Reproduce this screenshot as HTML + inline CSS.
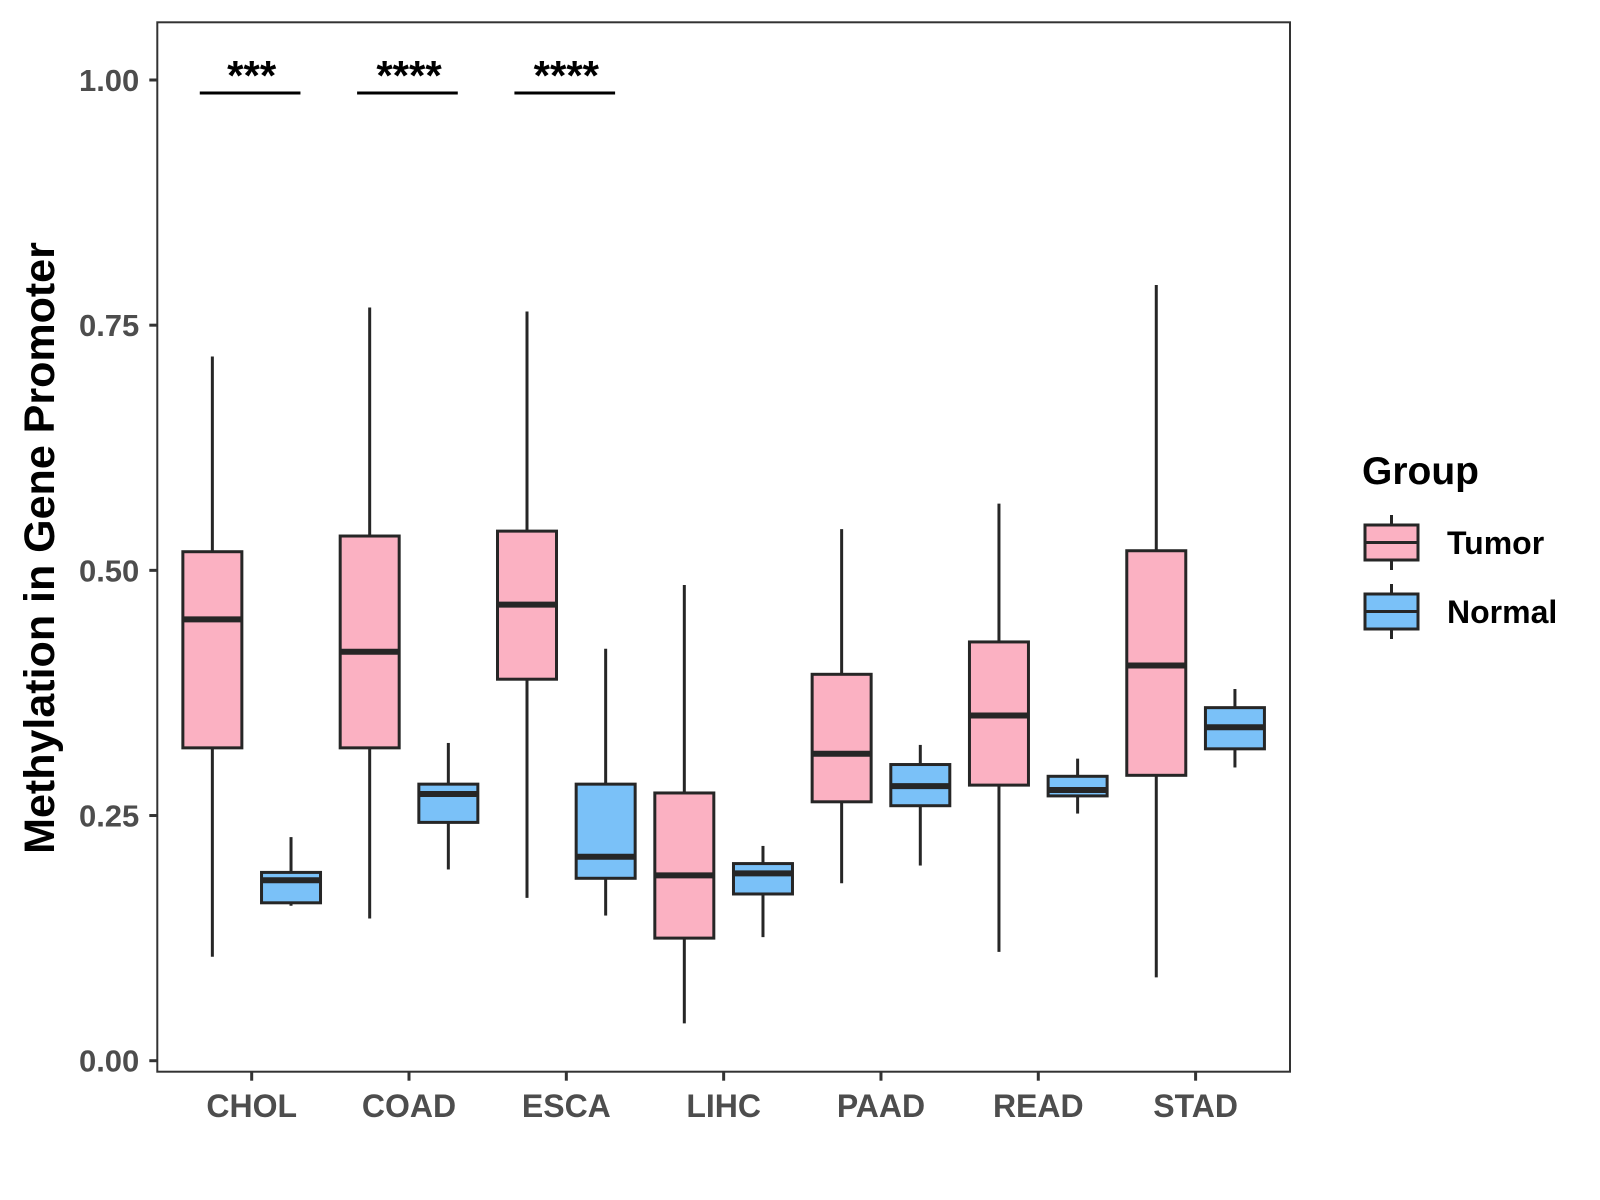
<!DOCTYPE html>
<html><head><meta charset="utf-8"><style>body{margin:0;background:#fff}svg{display:block}text{font-family:"Liberation Sans",Arial,sans-serif;font-weight:bold}</style></head>
<body>
<svg id="chart" width="1600" height="1200" viewBox="0 0 1600 1200" xmlns="http://www.w3.org/2000/svg">
<rect x="157.3" y="22.3" width="1132.7" height="1049.4" fill="#fff" stroke="#333" stroke-width="2"/>
<g id="g"></g>
<text transform="translate(54,548) rotate(-90)" text-anchor="middle" font-size="43" fill="#000">Methylation in Gene Promoter</text>
<text x="1362" y="484" font-size="39" fill="#000">Group</text>
</svg>
<script>
const categories=["CHOL","COAD","ESCA","LIHC","PAAD","READ","STAD"];
const groups=["Tumor","Normal"];
const tumorMin=[0.106,0.145,0.166,0.038,0.181,0.111,0.085];
const tumorQ1=[0.319,0.319,0.389,0.125,0.264,0.281,0.291];
const tumorMed=[0.450,0.417,0.465,0.189,0.313,0.352,0.403];
const tumorQ3=[0.519,0.535,0.540,0.273,0.394,0.427,0.520];
const tumorMax=[0.718,0.768,0.764,0.485,0.542,0.568,0.791];
const normalMin=[0.158,0.195,0.148,0.126,0.199,0.252,0.299];
const normalQ1=[0.161,0.243,0.186,0.170,0.260,0.270,0.318];
const normalMed=[0.184,0.272,0.208,0.191,0.280,0.276,0.340];
const normalQ3=[0.192,0.282,0.282,0.201,0.302,0.290,0.360];
const normalMax=[0.228,0.324,0.420,0.219,0.322,0.308,0.379];
const yTicks=[0,0.25,0.5,0.75,1.0];
const yTickLabels=["0.00","0.25","0.50","0.75","1.00"];
const sigCats=["CHOL","COAD","ESCA"];
const sigLabels=["***","****","****"];
const colors=["#FBB1C2","#7AC1F8"];
const NS="http://www.w3.org/2000/svg";
const L=157.3,R=1290,T=22.3,B=1071.7;
const step=(R-L)/(categories.length-1+1.2);
const xc=i=>L+step*(0.6+i);
const y=v=>1060.7-v*980.7;
const g=document.getElementById('g');
function mk(t,a,p){const e=document.createElementNS(NS,t);for(const k in a)e.setAttribute(k,a[k]);(p||g).appendChild(e);return e;}
yTicks.forEach((v,i)=>{
 const t=mk('line',{x1:L-8,x2:L,y1:y(v),y2:y(v),stroke:'#333','stroke-width':3});
 
 
 const l=mk('text',{x:L-18,y:y(v)+11,'text-anchor':'end','font-size':31,fill:'#4d4d4d'});
 l.textContent=yTickLabels[i];
 
 
});
categories.forEach((c,i)=>{
 const t=mk('line',{x1:xc(i),x2:xc(i),y1:B,y2:B+9,stroke:'#333','stroke-width':3});
 
 
 const l=mk('text',{x:xc(i),y:1117,'text-anchor':'middle','font-size':32,fill:'#4d4d4d'});
 l.textContent=c;
 
 
});
const stats=[[tumorMin,tumorQ1,tumorMed,tumorQ3,tumorMax],[normalMin,normalQ1,normalMed,normalQ3,normalMax]];
const bw=step*0.375;
categories.forEach((c,i)=>{
 stats.forEach((s,gi)=>{
  const cx=xc(i)+(gi===0?-1:1)*step*0.25;
  const box=mk('g',{});
  
  
  mk('line',{x1:cx,x2:cx,y1:y(s[4][i]),y2:y(s[3][i]),stroke:'#262626','stroke-width':3},box);
  mk('line',{x1:cx,x2:cx,y1:y(s[1][i]),y2:y(s[0][i]),stroke:'#262626','stroke-width':3},box);
  mk('rect',{x:cx-bw/2,y:y(s[3][i]),width:bw,height:y(s[1][i])-y(s[3][i]),fill:colors[gi],stroke:'#262626','stroke-width':3},box);
  mk('line',{x1:cx-bw/2,x2:cx+bw/2,y1:y(s[2][i]),y2:y(s[2][i]),stroke:'#262626','stroke-width':6},box);
 });
});
sigCats.forEach((c,k)=>{
 const i=categories.indexOf(c);
 const ln=mk('line',{x1:xc(i)-step*0.33,x2:xc(i)+step*0.31,y1:93,y2:93,stroke:'#000','stroke-width':3});
 
 
 const t=mk('text',{x:xc(i),y:90,'text-anchor':'middle','font-size':42,fill:'#000'});
 t.textContent=sigLabels[k];
 
 
});
groups.forEach((gr,gi)=>{
 const ky=[525,594][gi];
 const e=mk('g',{});
 
 
 mk('line',{x1:1391.5,x2:1391.5,y1:ky-10,y2:ky+45,stroke:'#262626','stroke-width':3},e);
 mk('rect',{x:1365,y:ky,width:53,height:35,fill:colors[gi],stroke:'#262626','stroke-width':3},e);
 mk('line',{x1:1365,x2:1418,y1:ky+17.5,y2:ky+17.5,stroke:'#262626','stroke-width':3},e);
 const t=mk('text',{x:1447,y:ky+29,'font-size':32,fill:'#000'},e);
 t.textContent=gr;
});
</script>
</body></html>
